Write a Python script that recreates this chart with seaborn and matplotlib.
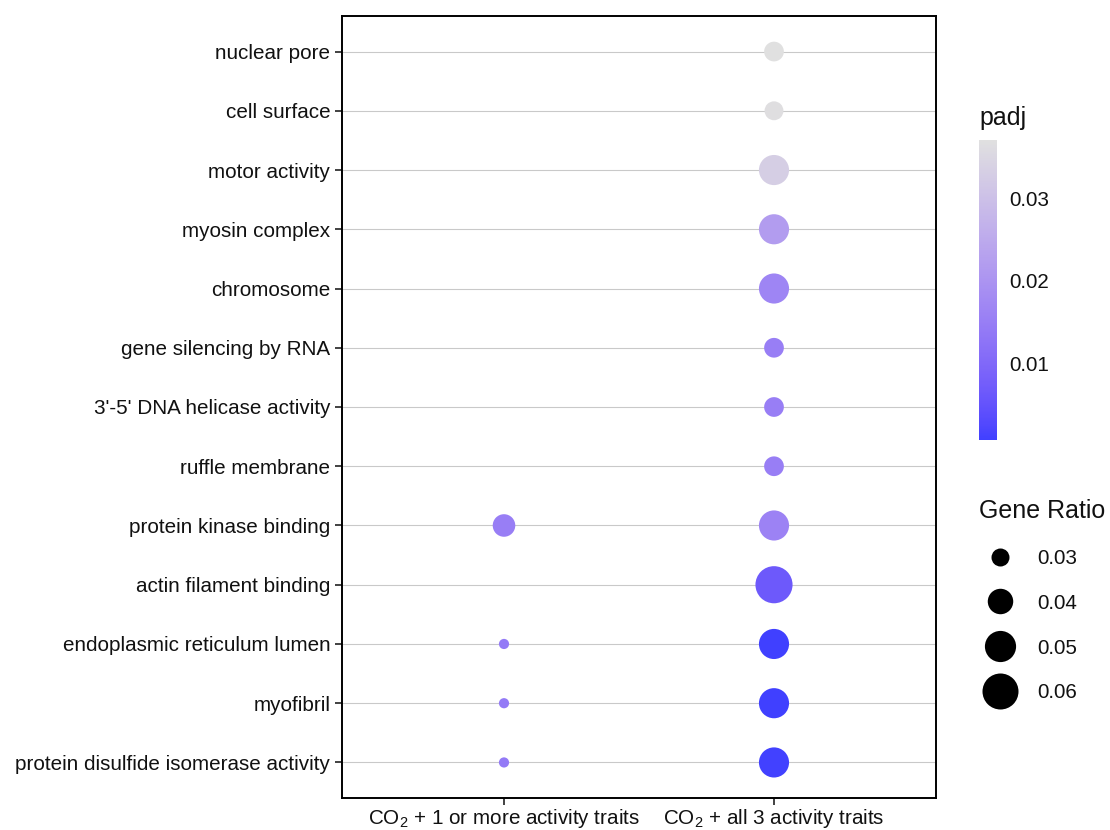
import numpy as np
import pandas as pd
import matplotlib
matplotlib.use("Agg")
import matplotlib.pyplot as plt
from matplotlib.colors import ListedColormap, Normalize, to_rgb
from matplotlib.cm import ScalarMappable
from matplotlib.lines import Line2D
import seaborn as sns

# ---- data -------------------------------------------------------------
terms = [
    "nuclear pore",
    "cell surface",
    "motor activity",
    "myosin complex",
    "chromosome",
    "gene silencing by RNA",
    "3'-5' DNA helicase activity",
    "ruffle membrane",
    "protein kinase binding",
    "actin filament binding",
    "endoplasmic reticulum lumen",
    "myofibril",
    "protein disulfide isomerase activity",
]
groups = ["CO$_2$ + 1 or more activity traits", "CO$_2$ + all 3 activity traits"]

# group "all 3 traits": every term
all3_ratio = [0.032, 0.031, 0.048, 0.048, 0.048, 0.032, 0.032, 0.032,
              0.048, 0.0625, 0.048, 0.048, 0.048]
all3_padj = [0.0370, 0.0365, 0.0330, 0.0220, 0.0165, 0.0150, 0.0150, 0.0150,
             0.0160, 0.0065, 0.0008, 0.0009, 0.0010]

# group "1 or more traits": four terms only
one_terms = ["protein kinase binding", "endoplasmic reticulum lumen",
             "myofibril", "protein disulfide isomerase activity"]
one_ratio = [0.0357, 0.0232, 0.0232, 0.0232]
one_padj = [0.0150, 0.0140, 0.0140, 0.0140]

size_breaks = [0.03, 0.04, 0.05, 0.06]
padj_breaks = [0.01, 0.02, 0.03]

df = pd.DataFrame({
    "term": one_terms + terms,
    "group": [groups[0]] * len(one_terms) + [groups[1]] * len(terms),
    "ratio": one_ratio + all3_ratio,
    "padj": one_padj + all3_padj,
})
df["term"] = pd.Categorical(df["term"], categories=terms)
df["group"] = pd.Categorical(df["group"], categories=groups)


# ---- colour scale: blue -> light grey, interpolated in CIELAB ----------
def _srgb_to_lab(rgb):
    rgb = np.asarray(rgb, float)
    lin = np.where(rgb <= 0.04045, rgb / 12.92, ((rgb + 0.055) / 1.055) ** 2.4)
    M = np.array([[0.4124, 0.3576, 0.1805],
                  [0.2126, 0.7152, 0.0722],
                  [0.0193, 0.1192, 0.9505]])
    xyz = M @ lin / np.array([0.95047, 1.0, 1.08883])
    f = np.where(xyz > 0.008856, np.cbrt(xyz), 7.787 * xyz + 16 / 116)
    return np.array([116 * f[1] - 16, 500 * (f[0] - f[1]), 200 * (f[1] - f[2])])


def _lab_to_srgb(lab):
    L, a, b = lab
    fy = (L + 16) / 116
    fx = fy + a / 500
    fz = fy - b / 200
    f = np.array([fx, fy, fz])
    xyz = np.where(f ** 3 > 0.008856, f ** 3, (f - 16 / 116) / 7.787)
    xyz = xyz * np.array([0.95047, 1.0, 1.08883])
    Minv = np.array([[3.2406, -1.5372, -0.4986],
                     [-0.9689, 1.8758, 0.0415],
                     [0.0557, -0.2040, 1.0570]])
    lin = np.clip(Minv @ xyz, 0, 1)
    rgb = np.where(lin <= 0.0031308, 12.92 * lin, 1.055 * lin ** (1 / 2.4) - 0.055)
    return np.clip(rgb, 0, 1)


lab_lo = _srgb_to_lab(to_rgb("#4040FF"))
lab_hi = _srgb_to_lab(to_rgb("#E0E0E0"))
cmap = ListedColormap([_lab_to_srgb(lab_lo + t * (lab_hi - lab_lo))
                       for t in np.linspace(0, 1, 256)])
hue_norm = Normalize(vmin=min(df["padj"]), vmax=max(df["padj"]))


# point area (pt^2) grows linearly with gene ratio
def area_for(v):
    return 168.0 + (v - 0.03) / 0.03 * 504.0


size_norm = (0.02, 0.07)
size_range = (area_for(size_norm[0]) + 1e-9, area_for(size_norm[1]))

# ---- figure -----------------------------------------------------------
sns.set_theme(style="white")
plt.rcParams["font.family"] = ["Liberation Sans", "DejaVu Sans"]
plt.rcParams["mathtext.default"] = "regular"
txt = "#111111"

fig = plt.figure(figsize=(11.1, 8.3), dpi=100)
ax = fig.add_axes([342 / 1110, 1 - 798 / 830, 594 / 1110, 782 / 830])

sns.scatterplot(
    data=df, x="group", y="term", hue="padj", size="ratio",
    palette=cmap, hue_norm=hue_norm,
    sizes=size_range, size_norm=size_norm,
    linewidth=0, alpha=1, legend=False, ax=ax, zorder=3,
)

ax.set_xlim(-0.6, 1.6)
ax.set_ylim(len(terms) - 1 + 0.6, -0.6)
ax.set_xlabel("")
ax.set_ylabel("")
ax.yaxis.grid(True, color="#C9C9C9", linewidth=0.8)
ax.xaxis.grid(False)
ax.set_axisbelow(True)
for sp in ax.spines.values():
    sp.set_visible(True)
    sp.set_color("black")
    sp.set_linewidth(1.4)
ax.tick_params(axis="both", which="major", length=5, width=1.3,
               color="#333333", labelsize=14.9, labelcolor=txt,
               pad=3.5, left=True, bottom=True)
ax.tick_params(axis="x", pad=1.5)

# colour bar for padj
cax = fig.add_axes([979 / 1110, 1 - 440 / 830, 18 / 1110, 300 / 830])
sm = ScalarMappable(norm=hue_norm, cmap=cmap)
cb = fig.colorbar(sm, cax=cax, ticks=padj_breaks)
cb.outline.set_visible(False)
cb.ax.set_yticklabels([f"{v:.2f}" for v in padj_breaks])
cb.ax.tick_params(length=0, pad=9, labelsize=14.9, labelcolor=txt)
fig.text(979 / 1110, 1 - 118 / 830, "padj", fontsize=18, va="center",
         ha="left", color=txt)

# size legend for gene ratio
handles = [Line2D([], [], marker="o", linestyle="", color="black",
                  markeredgewidth=0, markersize=np.sqrt(area_for(v)))
           for v in size_breaks]
leg = fig.legend(handles, [f"{v:.2f}" for v in size_breaks],
                 title="Gene Ratio", loc="upper left",
                 bbox_to_anchor=(979 / 1110, 1 - 499 / 830),
                 frameon=False, fontsize=14.9, title_fontsize=18,
                 labelspacing=1.25, handletextpad=0.75, borderpad=0,
                 borderaxespad=0, alignment="left", handlelength=2.05,
                 labelcolor=txt)
leg.get_title().set_color(txt)

fig.savefig("out.png", dpi=100, facecolor="white")
